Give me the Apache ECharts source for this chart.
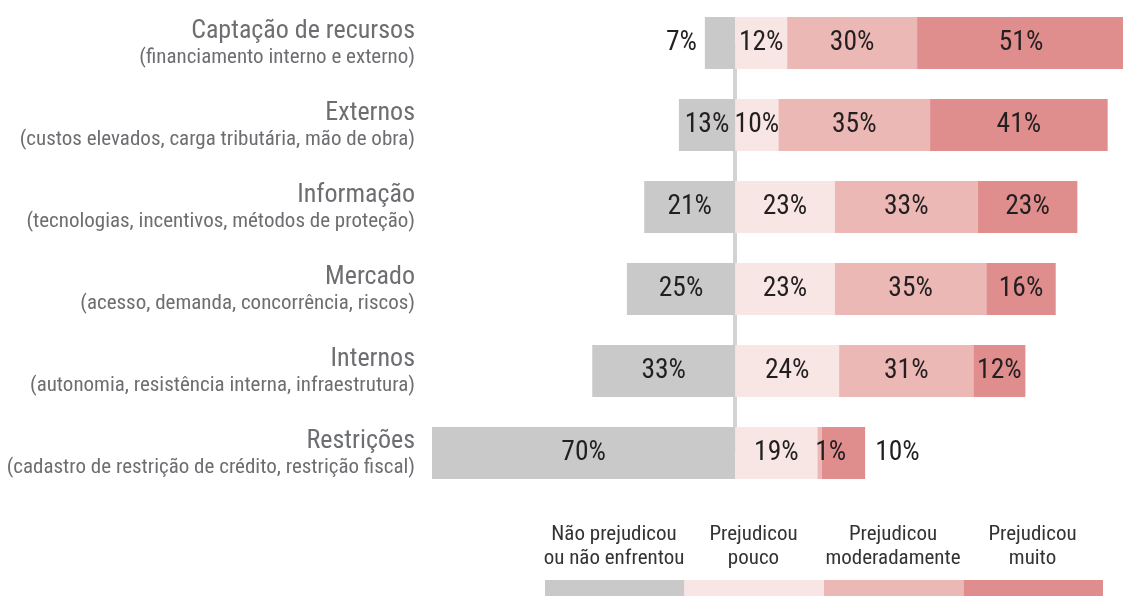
<!DOCTYPE html>
<html>
<head>
<meta charset="utf-8">
<script src="https://cdn.jsdelivr.net/npm/echarts@6/dist/echarts.min.js"></script>
<style>
  html, body { margin: 0; padding: 0; background: #fff; }
  #chart { width: 1123px; height: 596px; }
</style>
</head>
<body>
<div id="chart"></div>
<script>
// dados
const titulos = ['Captação de recursos', 'Externos', 'Informação', 'Mercado', 'Internos', 'Restrições']
const subtitulos = [
  '(financiamento interno e externo)',
  '(custos elevados, carga tributária, mão de obra)',
  '(tecnologias, incentivos, métodos de proteção)',
  '(acesso, demanda, concorrência, riscos)',
  '(autonomia, resistência interna, infraestrutura)',
  '(cadastro de restrição de crédito, restrição fiscal)'
]
const naoPrejudicou = [7, 13, 21, 25, 33, 70]
const prejudicouPouco = [12, 10, 23, 23, 24, 19]
const prejudicouModerado = [30, 35, 33, 35, 31, 1]
const prejudicouMuito = [51, 41, 23, 16, 12, 10]
const legendas = ['Não prejudicou\nou não enfrentou', 'Prejudicou\npouco', 'Prejudicou\nmoderadamente', 'Prejudicou\nmuito']
const cores = ['#c8c9c8', '#f7e6e3', '#ecb8b5', '#e08d8d']

const fonte = '"Roboto Condensed", "DejaVu Sans Condensed", sans-serif'
const chart = echarts.init(document.getElementById('chart'))

const rotulo = {
  show: true,
  position: 'inside',
  fontFamily: fonte,
  fontSize: 27.5,
  color: '#231f20',
  formatter: p => Math.abs(p.value) + '%'
}

function serie(nome, valores, cor, extra) {
  return {
    name: nome,
    type: 'bar',
    stack: 'total',
    barWidth: 52,
    itemStyle: { color: cor },
    label: rotulo,
    emphasis: { disabled: true },
    data: valores.map((v, i) => (extra && extra[i]) ? Object.assign({ value: v }, extra[i]) : v)
  }
}

const nomes = legendas.map(l => l.replace('\n', ' '))

const option = {
  animation: false,
  grid: { left: 432, right: -2, top: 2, bottom: 102, outerBoundsMode: 'none' },
  xAxis: {
    type: 'value',
    min: -70,
    max: 90,
    show: false
  },
  yAxis: {
    type: 'category',
    inverse: true,
    data: titulos,
    axisLine: { show: false },
    axisTick: { show: false },
    axisLabel: {
      margin: 17,
      align: 'right',
      formatter: (v, i) => '{t|' + v + '}\n{s|' + subtitulos[i] + '}',
      rich: {
        t: { fontFamily: fonte, fontSize: 26, color: '#6d6e71', lineHeight: 30, align: 'right' },
        s: { fontFamily: fonte, fontSize: 21, color: '#6d6e71', lineHeight: 24, align: 'right' }
      }
    }
  },
  series: [
    Object.assign(
      serie(nomes[0], naoPrejudicou.map(v => -v), cores[0], [
        { label: { position: 'left', distance: 8 } }
      ]),
      {
        markLine: {
          silent: true,
          symbol: 'none',
          z: 1,
          label: { show: false },
          lineStyle: { color: '#d3d3d3', width: 4, type: 'solid' },
          data: [[{ coord: [0, 0] }, { coord: [0, 5] }]]
        }
      }
    ),
    serie(nomes[1], prejudicouPouco, cores[1]),
    serie(nomes[2], prejudicouModerado, cores[2], [, , , , , { label: { offset: [11, 0] } }]),
    serie(nomes[3], prejudicouMuito, cores[3], [, , , , , { label: { position: 'right', distance: 10 } }])
  ],
  graphic: legendas.flatMap((txt, i) => [
    {
      type: 'rect',
      left: 545 + i * 139.5,
      top: 580,
      shape: { width: 139.5, height: 16 },
      style: { fill: cores[i] }
    },
    {
      type: 'text',
      x: 614 + i * 139.5,
      y: 547,
      style: {
        text: txt,
        fontFamily: fonte,
        fontSize: 21,
        lineHeight: 24,
        fill: '#333',
        align: 'center',
        verticalAlign: 'middle'
      }
    }
  ])
}

chart.setOption(option)
</script>
</body>
</html>
